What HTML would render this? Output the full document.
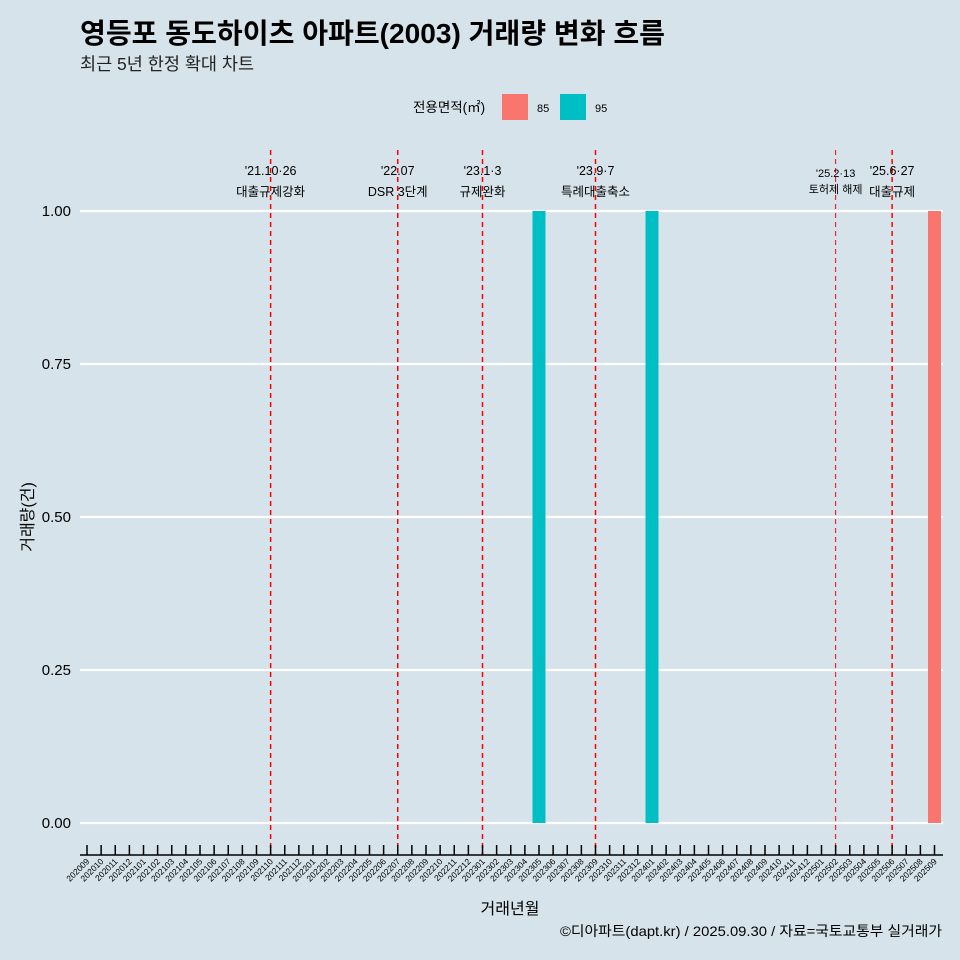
<!DOCTYPE html>
<html><head><meta charset="utf-8"><style>
html,body{margin:0;padding:0;background:#d6e3ea;overflow:hidden;width:960px;height:960px;}
svg{display:block;}
svg text{font-family:"Liberation Sans","Noto Sans CJK KR",sans-serif;}
</style></head><body>
<svg id="c" width="960" height="960" xmlns="http://www.w3.org/2000/svg">
<rect width="960" height="960" fill="#d6e3ea"/>
<text x="80" y="43" font-size="28" font-weight="bold" fill="#000" textLength="585" lengthAdjust="spacingAndGlyphs">영등포 동도하이츠 아파트(2003) 거래량 변화 흐름</text>
<text x="80" y="70" font-size="17.5" fill="#222">최근 5년 한정 확대 차트</text>
<g>
<text x="413" y="112" font-size="13.5">전용면적(㎡)</text>
<rect x="502" y="94" width="26" height="26" fill="#f8766d"/>
<text x="537" y="112" font-size="11">85</text>
<rect x="560" y="94" width="26" height="26" fill="#00bfc4"/>
<text x="595" y="112" font-size="11">95</text>
</g>
<g id="grid"></g><g id="bars"></g><g id="events"></g><g id="axes"></g>
<text x="510" y="914" font-size="16" text-anchor="middle">거래년월</text>
<text transform="translate(33,517) rotate(-90)" font-size="16" text-anchor="middle">거래량(건)</text>
<text x="942" y="936" font-size="14" text-anchor="end" textLength="382" lengthAdjust="spacingAndGlyphs">©디아파트(dapt.kr) / 2025.09.30 / 자료=국토교통부 실거래가</text>
</svg>
<script>
const months=[];for(let y=2020,m=9;y<2025||(y===2025&&m<=9);){months.push(''+y+(m<10?'0':'')+m);m++;if(m>12){m=1;y++;}}
const barMonths=['202305','202401','202509'];
const barValues=[1,1,1];
const barSeries=['95','95','85'];
const yTicks=[0,0.25,0.5,0.75,1];
const yTickLabels=['0.00','0.25','0.50','0.75','1.00'];
const eventMonths=['202110','202207','202301','202309','202502','202506'];
const eventDates=["'21.10·26","'22.07","'23.1·3","'23.9·7","'25.2·13","'25.6·27"];
const eventNames=['대출규제강화','DSR 3단계','규제완화','특례대출축소','토허제 해제','대출규제'];
const NS='http://www.w3.org/2000/svg';
const x=m=>87+months.indexOf(m)*14.125;
const y=v=>823-v*612;
const colors={'85':'#f8766d','95':'#00bfc4'};
function mk(t,a,p,txt){const e=document.createElementNS(NS,t);for(const k in a)e.setAttribute(k,a[k]);if(txt!==undefined)e.textContent=txt;document.getElementById(p).appendChild(e);return e;}
yTicks.forEach((v,i)=>{
 const l=mk('line',{x1:80,x2:943,y1:y(v),y2:y(v),stroke:'#fff','stroke-width':2.2},'grid');
 
 
 const t=mk('text',{x:71,y:y(v)+5,'font-size':15,'text-anchor':'end'},'axes',yTickLabels[i]);
 
 
});
barMonths.forEach((m,i)=>{
 const r=mk('rect',{x:x(m)-6.5,y:y(barValues[i]),width:13,height:y(0)-y(barValues[i]),fill:colors[barSeries[i]]},'bars');
 
 
});
eventMonths.forEach((m,i)=>{
 const small=m==='202502';
 const l=mk('line',{x1:x(m),x2:x(m),y1:150,y2:855,stroke:'#ff0000','stroke-width':small?1:1.5,'stroke-dasharray':'5,4'},'events');
 
 
 const fs=small?11:12.5;
 const t1=mk('text',{x:x(m),y:small?177:175,'font-size':fs,'text-anchor':'middle'},'events',eventDates[i]);
 
 
 const t2=mk('text',{x:x(m),y:small?193:196,'font-size':fs,'text-anchor':'middle'},'events',eventNames[i]);
 
 
});
const ax=mk('line',{x1:80,x2:943,y1:855,y2:855,stroke:'#000','stroke-width':1.5},'axes');


months.forEach(m=>{
 const tk=mk('line',{x1:x(m),x2:x(m),y1:845,y2:855,stroke:'#000','stroke-width':1.5},'axes');
 
 
 const t=mk('text',{transform:`translate(${x(m)+3},862) rotate(-45)`,'font-size':8.5,'text-anchor':'end'},'axes',m);
 
 
});
</script>
</body></html>
